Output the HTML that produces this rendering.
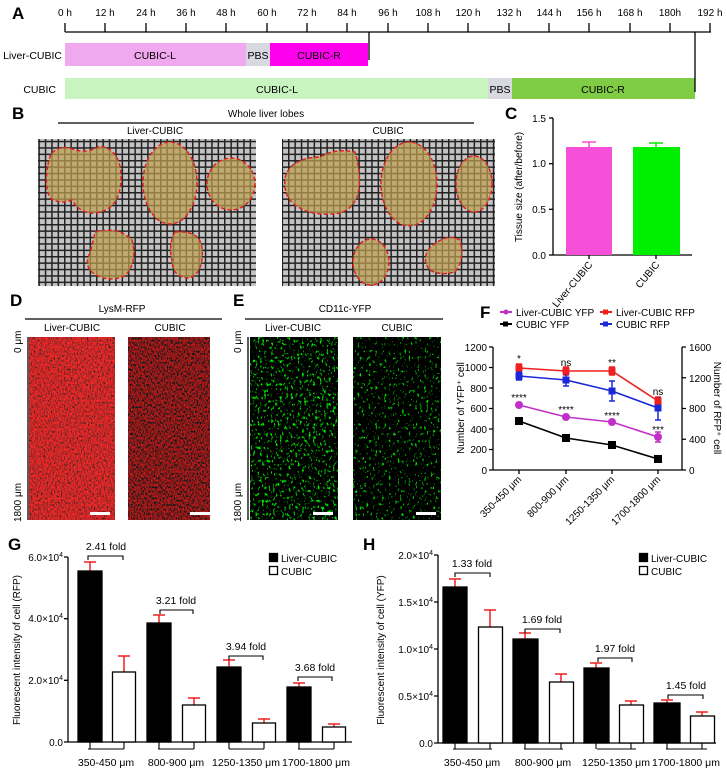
<!DOCTYPE html>
<html><head><meta charset="utf-8"><style>
body{margin:0;background:#fff}
svg{display:block;font-family:"Liberation Sans",Arial,sans-serif}
</style></head><body>
<svg width="727" height="776" viewBox="0 0 727 776" xmlns="http://www.w3.org/2000/svg">
<defs>
<pattern id="grid" width="6.4" height="6.4" patternUnits="userSpaceOnUse">
<rect width="6.4" height="6.4" fill="#c4c4c4"/>
<rect x="0" y="0" width="1.5" height="6.4" fill="#222"/>
<rect x="0" y="0" width="6.4" height="1.5" fill="#222"/>
</pattern>
<filter id="nred" x="0" y="0" width="100%" height="100%">
<feTurbulence type="fractalNoise" baseFrequency="0.7 0.45" numOctaves="2" seed="3"/>
<feColorMatrix values="2.2 0 0 0 -0.5  0 0 0 0 0.02  0 0 0 0 0.02  0 0 0 0 1"/>
</filter>
<filter id="nred2" x="0" y="0" width="100%" height="100%">
<feTurbulence type="fractalNoise" baseFrequency="0.7 0.45" numOctaves="2" seed="7"/>
<feColorMatrix values="1.5 0 0 0 -0.5  0 0 0 0 0.01  0 0 0 0 0.01  0 0 0 0 1"/>
</filter>
<filter id="ngreen" x="0" y="0" width="100%" height="100%">
<feTurbulence type="fractalNoise" baseFrequency="0.45 0.3" numOctaves="2" seed="5"/>
<feColorMatrix values="0 0 0 0 0  0 5 0 0 -3.0  0 0 0 0 0  0 0 0 0 1"/>
</filter>
<filter id="ngreen2" x="0" y="0" width="100%" height="100%">
<feTurbulence type="fractalNoise" baseFrequency="0.45 0.3" numOctaves="2" seed="11"/>
<feColorMatrix values="0 0 0 0 0  0 5 0 0 -3.2  0 0 0 0 0  0 0 0 0 1"/>
</filter>
</defs>

<!-- Panel A -->
<text x="12" y="19" font-size="17" font-weight="bold">A</text>
<g font-size="10" text-anchor="middle">
<text x="65" y="16">0 h</text><text x="105" y="16">12 h</text><text x="146" y="16">24 h</text><text x="186" y="16">36 h</text><text x="226" y="16">48 h</text><text x="267" y="16">60 h</text><text x="307" y="16">72 h</text><text x="347" y="16">84 h</text><text x="388" y="16">96 h</text><text x="428" y="16">108 h</text><text x="468" y="16">120 h</text><text x="509" y="16">132 h</text><text x="549" y="16">144 h</text><text x="589" y="16">156 h</text><text x="630" y="16">168 h</text><text x="670" y="16">180h</text><text x="710" y="16">192 h</text>
</g>
<g stroke="#000" stroke-width="1.3">
<line x1="65" y1="32" x2="711" y2="32"/>
<line x1="65" y1="23" x2="65" y2="32"/><line x1="105" y1="23" x2="105" y2="32"/><line x1="146" y1="23" x2="146" y2="32"/><line x1="186" y1="23" x2="186" y2="32"/><line x1="226" y1="23" x2="226" y2="32"/><line x1="267" y1="23" x2="267" y2="32"/><line x1="307" y1="23" x2="307" y2="32"/><line x1="347" y1="23" x2="347" y2="32"/><line x1="388" y1="23" x2="388" y2="32"/><line x1="428" y1="23" x2="428" y2="32"/><line x1="468" y1="23" x2="468" y2="32"/><line x1="509" y1="23" x2="509" y2="32"/><line x1="549" y1="23" x2="549" y2="32"/><line x1="589" y1="23" x2="589" y2="32"/><line x1="630" y1="23" x2="630" y2="32"/><line x1="670" y1="23" x2="670" y2="32"/><line x1="710" y1="23" x2="710" y2="32"/>
</g>
<rect x="65" y="43" width="181" height="23" fill="#f0a8ee"/>
<rect x="246" y="43" width="24" height="23" fill="#d8d8e0"/>
<rect x="270" y="43" width="98" height="23" fill="#ff00ee"/>
<line x1="369" y1="32" x2="369" y2="60" stroke="#000" stroke-width="1.3"/>
<rect x="65" y="78" width="423" height="21" fill="#c8f4c0"/>
<rect x="488" y="78" width="24" height="21" fill="#d8d8e0"/>
<rect x="512" y="78" width="183" height="21" fill="#80cc44"/>
<line x1="695" y1="32" x2="695" y2="92" stroke="#000" stroke-width="1.3"/>
<g font-size="10.5">
<text x="62" y="59" text-anchor="end">Liver-CUBIC</text>
<text x="56" y="93" text-anchor="end">CUBIC</text>
<text x="155" y="59" text-anchor="middle">CUBIC-L</text>
<text x="258" y="59" text-anchor="middle">PBS</text>
<text x="319" y="59" text-anchor="middle">CUBIC-R</text>
<text x="277" y="93" text-anchor="middle">CUBIC-L</text>
<text x="500" y="93" text-anchor="middle">PBS</text>
<text x="603" y="93" text-anchor="middle">CUBIC-R</text>
</g>

<!-- Panel B -->
<text x="12" y="119" font-size="17" font-weight="bold">B</text>
<text x="266" y="117" font-size="10" text-anchor="middle">Whole liver lobes</text>
<line x1="58" y1="123" x2="474" y2="123" stroke="#000" stroke-width="1.3"/>
<text x="155" y="134" font-size="10" text-anchor="middle">Liver-CUBIC</text>
<text x="388" y="134" font-size="10" text-anchor="middle">CUBIC</text>
<rect x="38" y="139" width="218" height="147" fill="url(#grid)"/>
<rect x="282" y="139" width="213" height="147" fill="url(#grid)"/>
<g fill="rgba(190,160,80,0.72)" stroke="#e02020" stroke-width="1.5" stroke-dasharray="4,2.5">
<path d="M48,165 Q50,145 70,148 Q85,155 100,146 Q122,150 121,180 Q120,210 95,213 Q80,214 72,200 Q60,205 50,198 Q44,185 48,165Z"/>
<ellipse cx="170" cy="183" rx="27" ry="41"/>
<ellipse cx="231" cy="184" rx="24" ry="26"/>
<path d="M95,232 Q118,226 132,240 Q138,262 125,276 Q110,282 98,276 Q85,270 88,258 Q92,248 95,232Z"/>
<path d="M175,232 Q200,230 202,248 Q204,272 190,278 Q172,278 172,260 Q168,245 175,232Z"/>
<path d="M285,178 Q290,158 320,157 Q335,148 355,152 Q362,175 358,195 Q350,215 330,214 Q312,215 300,208 Q283,200 285,178Z"/>
<ellipse cx="409" cy="184" rx="28" ry="42"/>
<ellipse cx="474" cy="184" rx="18" ry="28"/>
<ellipse cx="371" cy="262" rx="18" ry="23"/>
<path d="M428,250 Q445,232 460,240 Q465,260 455,272 Q440,276 430,270 Q422,262 428,250Z"/>
</g>

<!-- Panel C -->
<text x="505" y="119" font-size="17" font-weight="bold">C</text>
<g stroke="#000" stroke-width="1.3" fill="none">
<line x1="553" y1="118" x2="553" y2="255"/>
<line x1="553" y1="255" x2="692" y2="255"/>
<line x1="549" y1="118" x2="553" y2="118"/><line x1="549" y1="163.7" x2="553" y2="163.7"/><line x1="549" y1="209.3" x2="553" y2="209.3"/><line x1="549" y1="255" x2="553" y2="255"/>
<line x1="589" y1="255" x2="589" y2="259"/><line x1="656" y1="255" x2="656" y2="259"/>
</g>
<g font-size="10" text-anchor="end"><text x="546" y="122">1.5</text><text x="546" y="167">1.0</text><text x="546" y="213">0.5</text><text x="546" y="259">0.0</text></g>
<text transform="translate(522,187) rotate(-90)" font-size="10" text-anchor="middle">Tissue size (after/before)</text>
<rect x="566" y="147" width="46" height="108" fill="#f64fd8"/>
<rect x="633" y="147" width="47" height="108" fill="#00ee00"/>
<path d="M589,147V142M582,142H596" stroke="#f64fd8" stroke-width="1.5" fill="none"/>
<path d="M656,147V143M649,143H663" stroke="#00ee00" stroke-width="1.5" fill="none"/>
<text transform="translate(593,265) rotate(-50)" font-size="10" text-anchor="end">Liver-CUBIC</text>
<text transform="translate(660,265) rotate(-50)" font-size="10" text-anchor="end">CUBIC</text>

<!-- Panel D -->
<text x="10" y="306" font-size="17" font-weight="bold">D</text>
<text x="122" y="312" font-size="10" text-anchor="middle">LysM-RFP</text>
<line x1="25" y1="319" x2="222" y2="319" stroke="#000" stroke-width="1.3"/>
<text x="72" y="331" font-size="10" text-anchor="middle">Liver-CUBIC</text>
<text x="170" y="331" font-size="10" text-anchor="middle">CUBIC</text>
<rect x="29" y="337" width="86" height="183" filter="url(#nred)"/>
<rect x="128" y="337" width="82" height="183" filter="url(#nred2)"/>
<rect x="90" y="512" width="20" height="3" fill="#fff"/>
<rect x="190" y="512" width="20" height="3" fill="#fff"/>
<line x1="28" y1="337" x2="28" y2="520" stroke="#000" stroke-width="1.3"/>
<text transform="translate(21,353) rotate(-90)" font-size="10">0 μm</text>
<text transform="translate(21,522) rotate(-90)" font-size="10">1800 μm</text>

<!-- Panel E -->
<text x="233" y="306" font-size="17" font-weight="bold">E</text>
<text x="345" y="312" font-size="10" text-anchor="middle">CD11c-YFP</text>
<line x1="245" y1="319" x2="443" y2="319" stroke="#000" stroke-width="1.3"/>
<text x="293" y="331" font-size="10" text-anchor="middle">Liver-CUBIC</text>
<text x="397" y="331" font-size="10" text-anchor="middle">CUBIC</text>
<rect x="250" y="337" width="88" height="183" filter="url(#ngreen)"/>
<rect x="353" y="337" width="88" height="183" filter="url(#ngreen2)"/>
<rect x="313" y="512" width="20" height="3" fill="#fff"/>
<rect x="416" y="512" width="20" height="3" fill="#fff"/>
<line x1="248" y1="337" x2="248" y2="520" stroke="#000" stroke-width="1.3"/>
<text transform="translate(241,353) rotate(-90)" font-size="10">0 μm</text>
<text transform="translate(241,522) rotate(-90)" font-size="10">1800 μm</text>

<!-- Panel F -->
<text x="480" y="318" font-size="17" font-weight="bold">F</text>
<g stroke-width="2"><line x1="500" y1="312" x2="512" y2="312" stroke="#c030c8"/><line x1="600" y1="312" x2="612" y2="312" stroke="#ee2020"/><line x1="500" y1="324" x2="512" y2="324" stroke="#000"/><line x1="600" y1="324" x2="612" y2="324" stroke="#1c28d8"/></g>
<circle cx="506" cy="312" r="2.5" fill="#c030c8"/><rect x="603" y="309.5" width="5" height="5" fill="#ee2020"/><rect x="503" y="321.5" width="5" height="5" fill="#000"/><rect x="603" y="321.5" width="5" height="5" fill="#1c28d8"/>
<g font-size="10"><text x="516" y="316">Liver-CUBIC YFP</text><text x="616" y="316">Liver-CUBIC RFP</text><text x="516" y="328">CUBIC YFP</text><text x="616" y="328">CUBIC RFP</text></g>
<g stroke="#000" stroke-width="1.3" fill="none">
<line x1="493" y1="347" x2="493" y2="470"/><line x1="493" y1="470" x2="682" y2="470"/><line x1="682" y1="347" x2="682" y2="470"/>
<path d="M489,347H493M489,367.5H493M489,388H493M489,408.5H493M489,429H493M489,449.5H493M489,470H493"/>
<path d="M682,347H686M682,377.75H686M682,408.5H686M682,439.25H686M682,470H686"/>
<path d="M519,470V474M566,470V474M612,470V474M658,470V474"/>
</g>
<g font-size="10" text-anchor="end"><text x="487" y="351">1200</text><text x="487" y="371">1000</text><text x="487" y="392">800</text><text x="487" y="412">600</text><text x="487" y="433">400</text><text x="487" y="453">200</text><text x="487" y="474">0</text></g>
<g font-size="10"><text x="689" y="351">1600</text><text x="689" y="382">1200</text><text x="689" y="412">800</text><text x="689" y="443">400</text><text x="689" y="474">0</text></g>
<text transform="translate(464,408) rotate(-90)" font-size="10" text-anchor="middle">Number of YFP⁺ cell</text>
<text transform="translate(714,408) rotate(90)" font-size="10" text-anchor="middle">Number of RFP⁺ cell</text>
<g font-size="10" text-anchor="end">
<text transform="translate(522,480) rotate(-45)">350-450 μm</text>
<text transform="translate(569,480) rotate(-45)">800-900 μm</text>
<text transform="translate(615,480) rotate(-45)">1250-1350 μm</text>
<text transform="translate(661,480) rotate(-45)">1700-1800 μm</text>
</g>
<polyline points="519,368 566,371 612,371 658,401" fill="none" stroke="#ee2020" stroke-width="1.6"/>
<polyline points="519,376 566,380 612,391 658,408" fill="none" stroke="#1c28d8" stroke-width="1.6"/>
<polyline points="519,405 566,417 612,422 658,437" fill="none" stroke="#c030c8" stroke-width="1.6"/>
<polyline points="519,421 566,438 612,445 658,459" fill="none" stroke="#000" stroke-width="1.6"/>
<g stroke-width="1.5" fill="none">
<path d="M519,364V372M516,364H522M516,372H522M566,367V375M563,367H569M563,375H569M612,367V375M609,367H615M609,375H615M658,397V405M655,397H661M655,405H661" stroke="#ee2020"/>
<path d="M519,372V380M516,372H522M516,380H522M566,374V386M563,374H569M563,386H569M612,381V401M609,381H615M609,401H615M658,398V420M655,398H661M655,420H661" stroke="#1c28d8"/>
<path d="M658,432V442M655,432H661M655,442H661" stroke="#c030c8"/>
</g>
<g fill="#ee2020"><rect x="515.5" y="364.5" width="7" height="7"/><rect x="562.5" y="367.5" width="7" height="7"/><rect x="608.5" y="367.5" width="7" height="7"/><rect x="654.5" y="397.5" width="7" height="7"/></g>
<g fill="#1c28d8"><rect x="515.5" y="372.5" width="7" height="7"/><rect x="562.5" y="376.5" width="7" height="7"/><rect x="608.5" y="387.5" width="7" height="7"/><rect x="654.5" y="404.5" width="7" height="7"/></g>
<g fill="#c030c8"><circle cx="519" cy="405" r="4"/><circle cx="566" cy="417" r="4"/><circle cx="612" cy="422" r="4"/><circle cx="658" cy="437" r="4"/></g>
<g fill="#000"><rect x="515" y="417" width="8" height="8"/><rect x="562" y="434" width="8" height="8"/><rect x="608" y="441" width="8" height="8"/><rect x="654" y="455" width="8" height="8"/></g>
<g font-size="10" text-anchor="middle">
<text x="519" y="362">*</text><text x="566" y="366">ns</text><text x="612" y="366">**</text><text x="658" y="395">ns</text>
<text x="519" y="401">****</text><text x="566" y="413">****</text><text x="612" y="419">****</text><text x="658" y="433">***</text>
</g>

<!-- Panel G -->
<text x="8" y="550" font-size="17" font-weight="bold">G</text>
<g stroke="#000" stroke-width="1.3" fill="none">
<line x1="68" y1="557" x2="68" y2="742"/><line x1="68" y1="742" x2="352" y2="742"/>
<path d="M64,557H68M64,618.7H68M64,680.3H68M64,742H68"/>
</g>
<g font-size="10" text-anchor="end"><text x="63" y="561">6.0×10<tspan font-size="7" dy="-4">4</tspan></text><text x="63" y="622">4.0×10<tspan font-size="7" dy="-4">4</tspan></text><text x="63" y="684">2.0×10<tspan font-size="7" dy="-4">4</tspan></text><text x="63" y="746">0.0</text></g>
<text transform="translate(20,650) rotate(-90)" font-size="10" text-anchor="middle">Fluorescent intensity of cell (RFP)</text>
<g stroke="#ee2020" stroke-width="1.5" fill="none">
<path d="M90,571V562M84,562H96M124,672V656M118,656H130M159,623V615M153,615H165M194,705V698M188,698H200M229,667V660M223,660H235M264,723V719M258,719H270M299,687V683M293,683H305M334,727V724M328,724H340"/>
</g>
<g stroke="#000" stroke-width="1.3">
<rect x="78" y="571" width="24" height="171" fill="#000"/><rect x="112.5" y="672" width="23" height="70" fill="#fff"/>
<rect x="147" y="623" width="24" height="119" fill="#000"/><rect x="182.5" y="705" width="23" height="37" fill="#fff"/>
<rect x="217" y="667" width="24" height="75" fill="#000"/><rect x="252.5" y="723" width="23" height="19" fill="#fff"/>
<rect x="287" y="687" width="24" height="55" fill="#000"/><rect x="322.5" y="727" width="23" height="15" fill="#fff"/>
<rect x="269.5" y="553.5" width="8" height="8" fill="#000"/><rect x="269.5" y="566.5" width="8" height="8" fill="#fff"/>
</g>
<g stroke="#000" stroke-width="1.1" fill="none">
<path d="M88,560V556H123V560M160,614V610H193V614M229,660V656H263V660M298,681V677H332V681"/>
<path d="M88,749H124M158,749H194M229,749H264M298,749H334M90,742V749M124,742V749M159,742V749M194,742V749M229,742V749M264,742V749M299,742V749M334,742V749"/>
</g>
<g font-size="10"><text x="281" y="562">Liver-CUBIC</text><text x="281" y="575">CUBIC</text></g>
<g font-size="10.5" text-anchor="middle">
<text x="106" y="550">2.41 fold</text><text x="176" y="604">3.21 fold</text><text x="246" y="650">3.94 fold</text><text x="315" y="671">3.68 fold</text>
<text x="106" y="766">350-450 μm</text><text x="176" y="766">800-900 μm</text><text x="246" y="766">1250-1350 μm</text><text x="316" y="766">1700-1800 μm</text>
</g>

<!-- Panel H -->
<text x="363" y="550" font-size="17" font-weight="bold">H</text>
<g stroke="#000" stroke-width="1.3" fill="none">
<line x1="438" y1="555" x2="438" y2="743"/><line x1="438" y1="743" x2="716" y2="743"/>
<path d="M434,555H438M434,602H438M434,649H438M434,696H438M434,743H438"/>
</g>
<g font-size="10" text-anchor="end"><text x="433" y="559">2.0×10<tspan font-size="7" dy="-4">4</tspan></text><text x="433" y="606">1.5×10<tspan font-size="7" dy="-4">4</tspan></text><text x="433" y="653">1.0×10<tspan font-size="7" dy="-4">4</tspan></text><text x="433" y="700">0.5×10<tspan font-size="7" dy="-4">4</tspan></text><text x="433" y="747">0.0</text></g>
<text transform="translate(384,650) rotate(-90)" font-size="10" text-anchor="middle">Fluorescent intensity of cell (YFP)</text>
<g stroke="#ee2020" stroke-width="1.5" fill="none">
<path d="M455,587V579M449,579H461M490,627V610M484,610H496M525,639V633M519,633H531M561,682V674M555,674H567M596,668V663M590,663H602M631,705V701M625,701H637M667,703V700M661,700H673M702,716V712M696,712H708"/>
</g>
<g stroke="#000" stroke-width="1.3">
<rect x="443" y="587" width="24" height="156" fill="#000"/><rect x="478.5" y="627" width="24" height="116" fill="#fff"/>
<rect x="513" y="639" width="25" height="104" fill="#000"/><rect x="549.5" y="682" width="24" height="61" fill="#fff"/>
<rect x="584" y="668" width="25" height="75" fill="#000"/><rect x="619.5" y="705" width="24" height="38" fill="#fff"/>
<rect x="654" y="703" width="26" height="40" fill="#000"/><rect x="690.5" y="716" width="24" height="27" fill="#fff"/>
<rect x="639.5" y="553.5" width="8" height="8" fill="#000"/><rect x="639.5" y="566.5" width="8" height="8" fill="#fff"/>
</g>
<g stroke="#000" stroke-width="1.1" fill="none">
<path d="M455,577V573H490V577M525,633V629H560V633M598,662V658H632V662M668,699V695H703V699"/>
<path d="M453,749H492M524,749H563M597,749H636M666,749H707M455,743V749M490,743V749M525,743V749M561,743V749M596,743V749M631,743V749M667,743V749M702,743V749"/>
</g>
<g font-size="10"><text x="651" y="562">Liver-CUBIC</text><text x="651" y="575">CUBIC</text></g>
<g font-size="10.5" text-anchor="middle">
<text x="472" y="567">1.33 fold</text><text x="542" y="623">1.69 fold</text><text x="615" y="652">1.97 fold</text><text x="686" y="689">1.45 fold</text>
<text x="472" y="766">350-450 μm</text><text x="543" y="766">800-900 μm</text><text x="616" y="766">1250-1350 μm</text><text x="686" y="766">1700-1800 μm</text>
</g>
</svg>
</body></html>
